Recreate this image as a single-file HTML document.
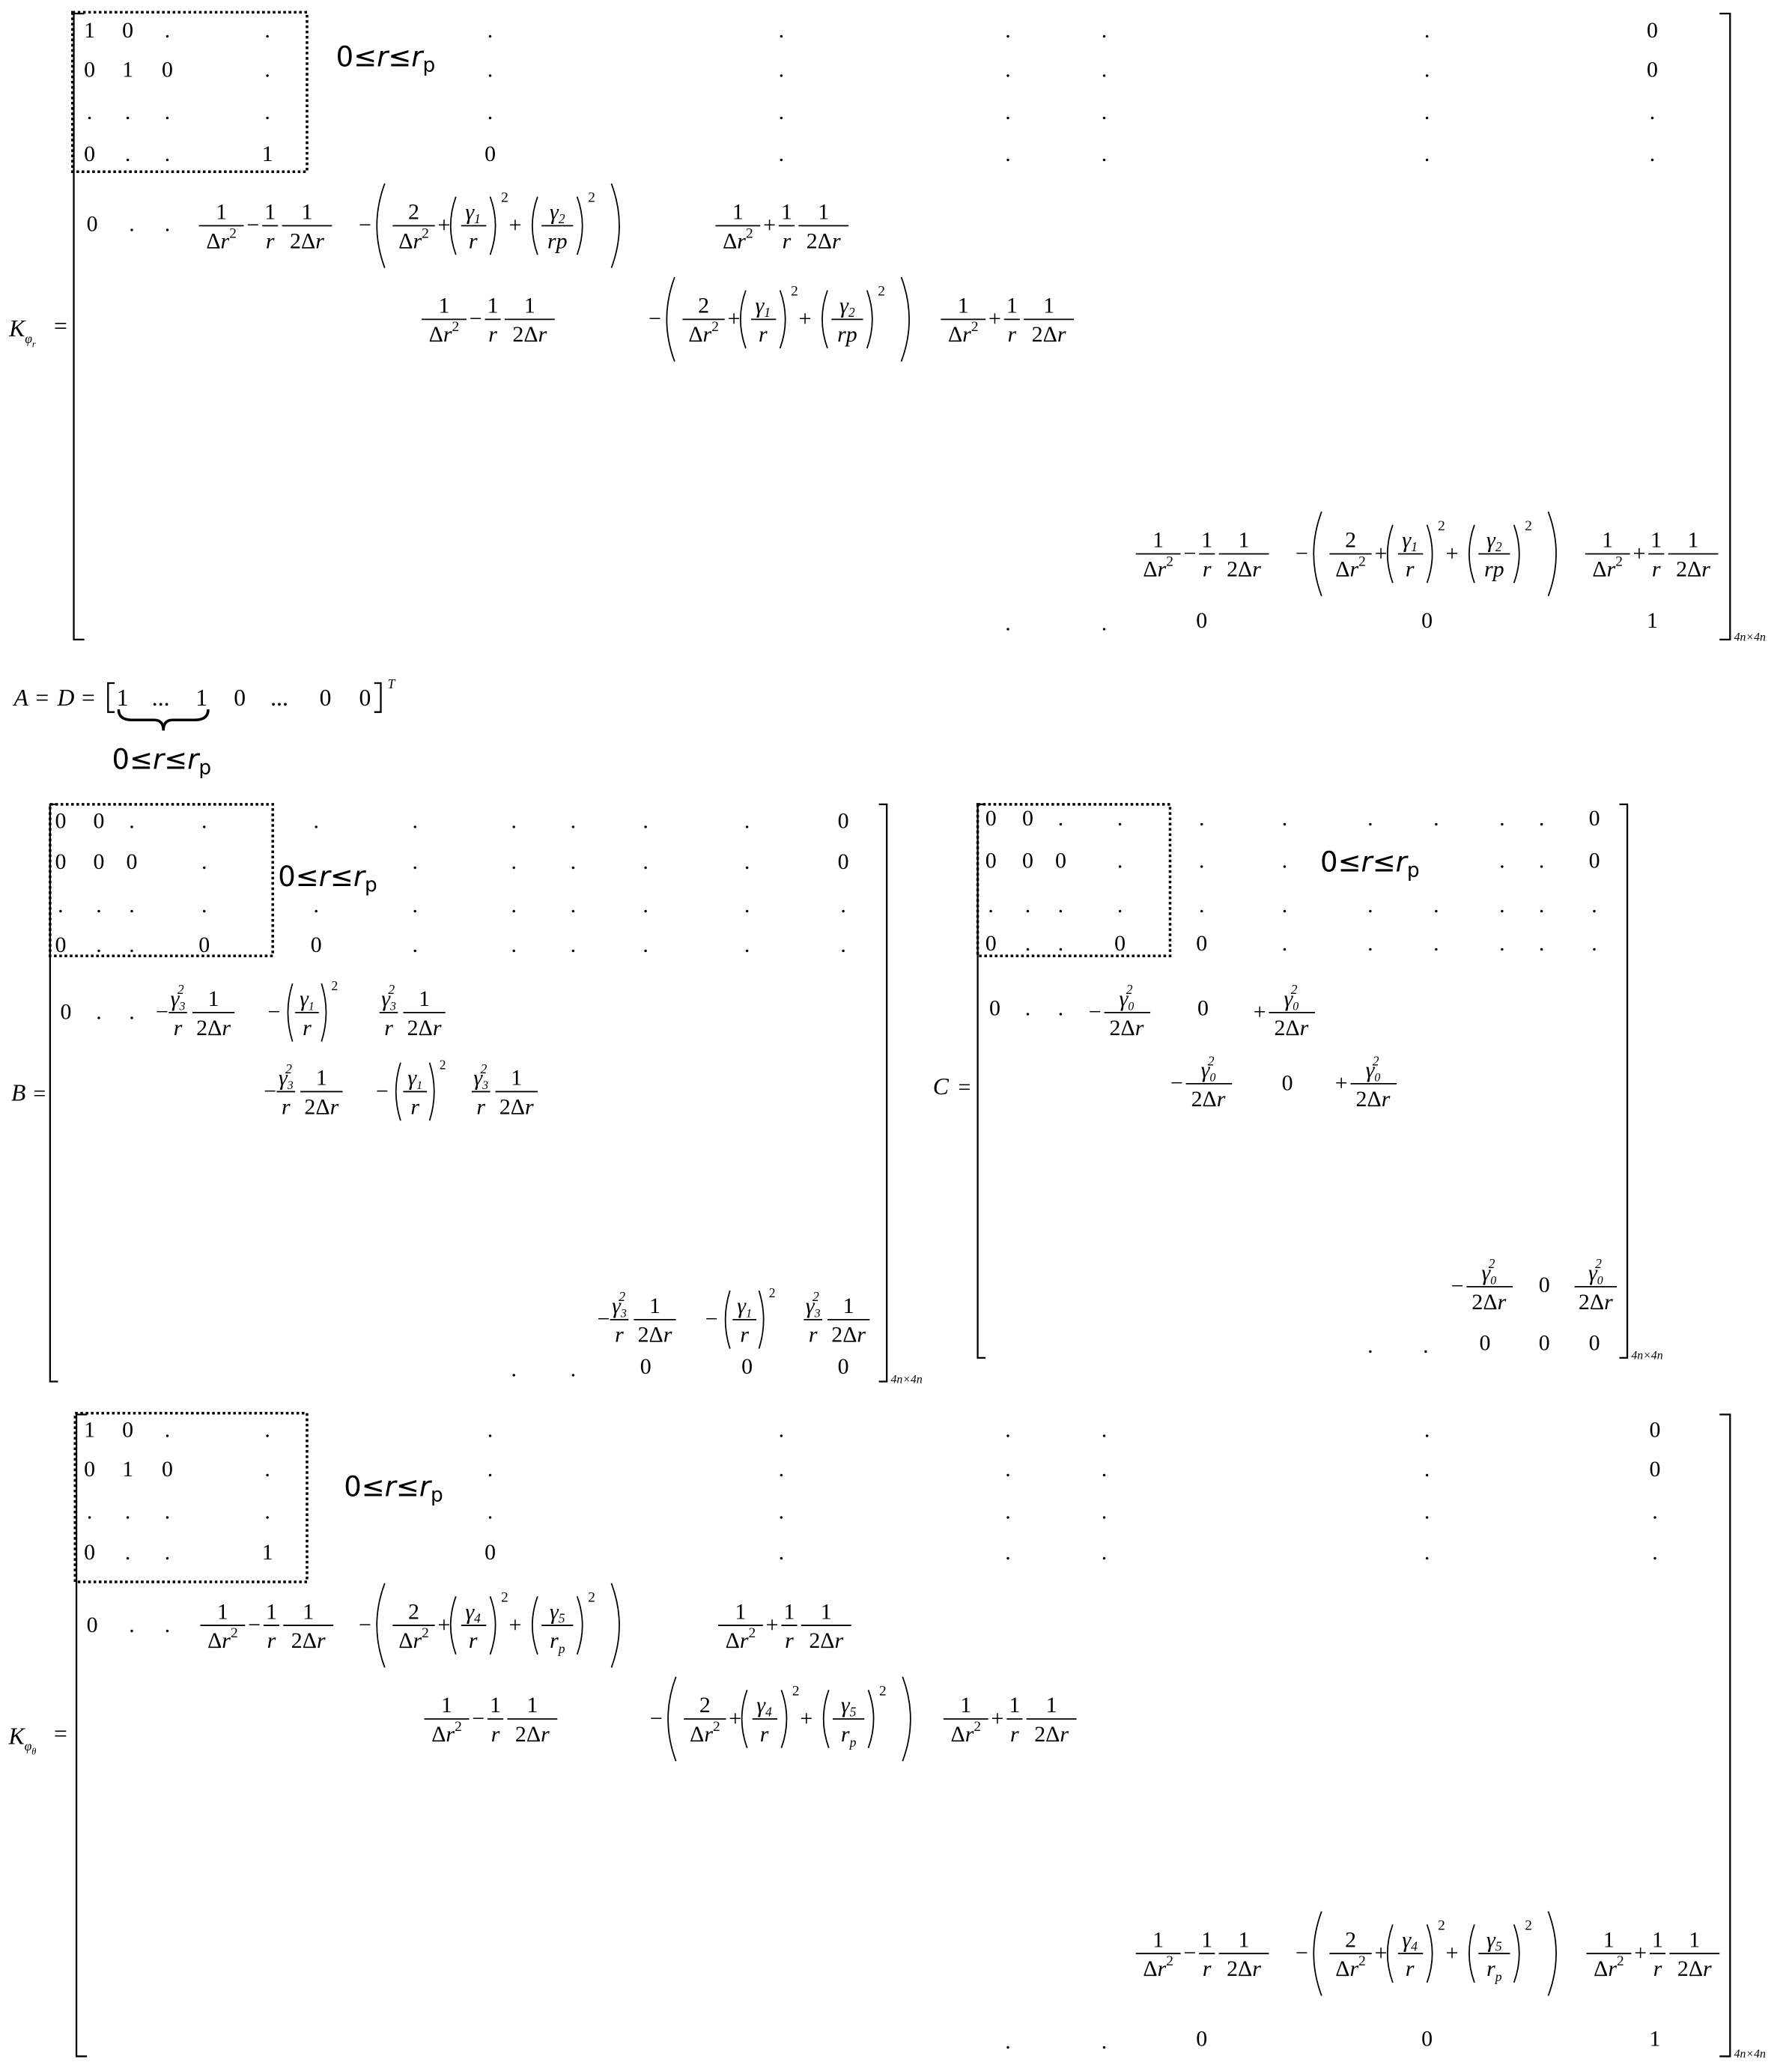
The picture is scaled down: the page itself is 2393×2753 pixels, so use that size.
<!DOCTYPE html>
<html><head><meta charset="utf-8"><style>
html,body{margin:0;padding:0;background:#fff}
svg{display:block;font-size:17px}
text{font-family:"Liberation Serif",serif;text-anchor:middle;fill:#000}
.i{font-style:italic}
.l{stroke:#000;stroke-width:1;fill:none}
.p{stroke:#000;stroke-width:1;fill:none}
.b{stroke:#000;stroke-width:1.3;fill:none}
.box{stroke:#000;stroke-width:2;stroke-dasharray:2,2;fill:none}
.s{font-size:10px}
.rr{font-family:"DejaVu Sans","Liberation Sans",sans-serif;font-size:21px;text-anchor:start}
</style></head><body>
<svg width="2393" height="2753" viewBox="0 0 1360 1564" xmlns="http://www.w3.org/2000/svg">

<!-- ================= K_phi_r ================= -->
<text x="17" y="255" class="i" style="font-size:18px">K<tspan class="s" dy="5">φ</tspan><tspan dy="3" font-size="7">r</tspan></text>
<text x="46" y="253" style="font-size:18px">=</text>
<path class="b" d="M64 10H56V485H64M1305 10H1313V485H1305"/>
<text x="1316" y="486" class="i" style="font-size:9px;text-anchor:start">4n×4n</text>
<rect class="box" x="55" y="9" width="178" height="121"/>
<text x="255" y="50" class="rr">0≤<tspan class="i">r</tspan>≤<tspan class="i">r</tspan><tspan font-size="15" dy="4">p</tspan></text>
<g>
<text x="68" y="28">1</text><text x="97" y="28">0</text><text x="127" y="28">.</text><text x="203" y="28">.</text><text x="372" y="28">.</text><text x="593" y="28">.</text><text x="765" y="28">.</text><text x="838" y="28">.</text><text x="1083" y="28">.</text><text x="1254" y="28">0</text>
<text x="68" y="58">0</text><text x="97" y="58">1</text><text x="127" y="58">0</text><text x="203" y="58">.</text><text x="372" y="58">.</text><text x="593" y="58">.</text><text x="765" y="58">.</text><text x="838" y="58">.</text><text x="1083" y="58">.</text><text x="1254" y="58">0</text>
<text x="68" y="90">.</text><text x="97" y="90">.</text><text x="127" y="90">.</text><text x="203" y="90">.</text><text x="372" y="90">.</text><text x="593" y="90">.</text><text x="765" y="90">.</text><text x="838" y="90">.</text><text x="1083" y="90">.</text><text x="1254" y="90">.</text>
<text x="68" y="122">0</text><text x="97" y="122">.</text><text x="127" y="122">.</text><text x="203" y="122">1</text><text x="372" y="122">0</text><text x="593" y="122">.</text><text x="765" y="122">.</text><text x="838" y="122">.</text><text x="1083" y="122">.</text><text x="1254" y="122">.</text>
<text x="70" y="175">0</text><text x="100" y="175">.</text><text x="127" y="175">.</text>
<text x="765" y="478">.</text><text x="838" y="478">.</text><text x="912" y="476">0</text><text x="1083" y="476">0</text><text x="1254" y="476">1</text>
</g>
<g transform="translate(151,171)"><path class="l" d="M0 0H34M48 0H60M63 0H101"/><text x="17" y="-5">1</text><text x="17" y="17">Δ<tspan class="i">r</tspan><tspan dy="-8" font-size="11">2</tspan></text><text x="41" y="5">−</text><text x="54" y="-5">1</text><text x="54" y="17" class="i">r</text><text x="82" y="-5">1</text><text x="82" y="17">2Δ<tspan class="i">r</tspan></text></g>
<g transform="translate(272,171)"><text x="5" y="5">−</text><path class="p" d="M20 -32Q8 0 20 32M192 -32Q204 0 192 32M74 -22Q66 0 74 22M100 -22Q108 0 100 22M136 -22Q128 0 136 22M166 -22Q174 0 166 22"/><path class="l" d="M26 0H58M78 0H97M139 0H163"/><text x="42" y="-5">2</text><text x="42" y="17">Δ<tspan class="i">r</tspan><tspan dy="-8" font-size="11">2</tspan></text><text x="65" y="5">+</text><text x="87" y="-5" class="i">γ<tspan font-size="10" dy="3">1</tspan></text><text x="87" y="17" class="i">r</text><text x="111" y="-18" font-size="11">2</text><text x="119" y="5">+</text><text x="151" y="-5" class="i">γ<tspan font-size="10" dy="3">2</tspan></text><text x="151" y="17" class="i">rp</text><text x="177" y="-18" font-size="11">2</text></g>
<g transform="translate(543,171)"><path class="l" d="M0 0H34M48 0H60M63 0H101"/><text x="17" y="-5">1</text><text x="17" y="17">Δ<tspan class="i">r</tspan><tspan dy="-8" font-size="11">2</tspan></text><text x="41" y="5">+</text><text x="54" y="-5">1</text><text x="54" y="17" class="i">r</text><text x="82" y="-5">1</text><text x="82" y="17">2Δ<tspan class="i">r</tspan></text></g>
<g transform="translate(320,242)"><path class="l" d="M0 0H34M48 0H60M63 0H101"/><text x="17" y="-5">1</text><text x="17" y="17">Δ<tspan class="i">r</tspan><tspan dy="-8" font-size="11">2</tspan></text><text x="41" y="5">−</text><text x="54" y="-5">1</text><text x="54" y="17" class="i">r</text><text x="82" y="-5">1</text><text x="82" y="17">2Δ<tspan class="i">r</tspan></text></g>
<g transform="translate(492,242)"><text x="5" y="5">−</text><path class="p" d="M20 -32Q8 0 20 32M192 -32Q204 0 192 32M74 -22Q66 0 74 22M100 -22Q108 0 100 22M136 -22Q128 0 136 22M166 -22Q174 0 166 22"/><path class="l" d="M26 0H58M78 0H97M139 0H163"/><text x="42" y="-5">2</text><text x="42" y="17">Δ<tspan class="i">r</tspan><tspan dy="-8" font-size="11">2</tspan></text><text x="65" y="5">+</text><text x="87" y="-5" class="i">γ<tspan font-size="10" dy="3">1</tspan></text><text x="87" y="17" class="i">r</text><text x="111" y="-18" font-size="11">2</text><text x="119" y="5">+</text><text x="151" y="-5" class="i">γ<tspan font-size="10" dy="3">2</tspan></text><text x="151" y="17" class="i">rp</text><text x="177" y="-18" font-size="11">2</text></g>
<g transform="translate(714,242)"><path class="l" d="M0 0H34M48 0H60M63 0H101"/><text x="17" y="-5">1</text><text x="17" y="17">Δ<tspan class="i">r</tspan><tspan dy="-8" font-size="11">2</tspan></text><text x="41" y="5">+</text><text x="54" y="-5">1</text><text x="54" y="17" class="i">r</text><text x="82" y="-5">1</text><text x="82" y="17">2Δ<tspan class="i">r</tspan></text></g>
<g transform="translate(862,420)"><path class="l" d="M0 0H34M48 0H60M63 0H101"/><text x="17" y="-5">1</text><text x="17" y="17">Δ<tspan class="i">r</tspan><tspan dy="-8" font-size="11">2</tspan></text><text x="41" y="5">−</text><text x="54" y="-5">1</text><text x="54" y="17" class="i">r</text><text x="82" y="-5">1</text><text x="82" y="17">2Δ<tspan class="i">r</tspan></text></g>
<g transform="translate(983,420)"><text x="5" y="5">−</text><path class="p" d="M20 -32Q8 0 20 32M192 -32Q204 0 192 32M74 -22Q66 0 74 22M100 -22Q108 0 100 22M136 -22Q128 0 136 22M166 -22Q174 0 166 22"/><path class="l" d="M26 0H58M78 0H97M139 0H163"/><text x="42" y="-5">2</text><text x="42" y="17">Δ<tspan class="i">r</tspan><tspan dy="-8" font-size="11">2</tspan></text><text x="65" y="5">+</text><text x="87" y="-5" class="i">γ<tspan font-size="10" dy="3">1</tspan></text><text x="87" y="17" class="i">r</text><text x="111" y="-18" font-size="11">2</text><text x="119" y="5">+</text><text x="151" y="-5" class="i">γ<tspan font-size="10" dy="3">2</tspan></text><text x="151" y="17" class="i">rp</text><text x="177" y="-18" font-size="11">2</text></g>
<g transform="translate(1203,420)"><path class="l" d="M0 0H34M48 0H60M63 0H101"/><text x="17" y="-5">1</text><text x="17" y="17">Δ<tspan class="i">r</tspan><tspan dy="-8" font-size="11">2</tspan></text><text x="41" y="5">+</text><text x="54" y="-5">1</text><text x="54" y="17" class="i">r</text><text x="82" y="-5">1</text><text x="82" y="17">2Δ<tspan class="i">r</tspan></text></g>

<!-- ================= A = D ================= -->
<g style="font-size:18px">
<text x="16" y="535" class="i">A</text><text x="32" y="535">=</text><text x="50" y="535" class="i">D</text><text x="67" y="535">=</text>
<text x="93" y="535">1</text><text x="122" y="535">...</text><text x="153" y="535">1</text><text x="182" y="535">0</text><text x="212" y="535">...</text><text x="247" y="535">0</text><text x="277" y="535">0</text>
<text x="297" y="522" class="i" font-size="10">T</text>
</g>
<path class="b" d="M87 518H82V540H87M284 518H289V540H284"/>
<path class="b" style="stroke-width:2" d="M90 538Q90 546 100 546H117Q124 546 124 554Q124 546 131 546H148Q158 546 158 538"/>
<text x="85" y="583" class="rr">0≤<tspan class="i">r</tspan>≤<tspan class="i">r</tspan><tspan font-size="15" dy="4">p</tspan></text>

<!-- ================= B ================= -->
<text x="14" y="835" class="i" style="font-size:18px">B</text><text x="30" y="835">=</text>
<path class="b" d="M44 610H38V1048H44M667 610H673V1048H667"/>
<text x="676" y="1049" class="i" style="font-size:9px;text-anchor:start">4n×4n</text>
<rect class="box" x="38" y="610" width="169" height="115"/>
<text x="211" y="672" class="rr">0≤<tspan class="i">r</tspan>≤<tspan class="i">r</tspan><tspan font-size="15" dy="4">p</tspan></text>
<g>
<text x="46" y="628">0</text><text x="75" y="628">0</text><text x="100" y="628">.</text><text x="155" y="628">.</text><text x="240" y="628">.</text><text x="315" y="628">.</text><text x="390" y="628">.</text><text x="435" y="628">.</text><text x="490" y="628">.</text><text x="567" y="628">.</text><text x="640" y="628">0</text>
<text x="46" y="659">0</text><text x="75" y="659">0</text><text x="100" y="659">0</text><text x="155" y="659">.</text><text x="315" y="659">.</text><text x="390" y="659">.</text><text x="435" y="659">.</text><text x="490" y="659">.</text><text x="567" y="659">.</text><text x="640" y="659">0</text>
<text x="46" y="692">.</text><text x="75" y="692">.</text><text x="100" y="692">.</text><text x="155" y="692">.</text><text x="240" y="692">.</text><text x="315" y="692">.</text><text x="390" y="692">.</text><text x="435" y="692">.</text><text x="490" y="692">.</text><text x="567" y="692">.</text><text x="640" y="692">.</text>
<text x="46" y="722">0</text><text x="75" y="722">.</text><text x="100" y="722">.</text><text x="155" y="722">0</text><text x="240" y="722">0</text><text x="315" y="722">.</text><text x="390" y="722">.</text><text x="435" y="722">.</text><text x="490" y="722">.</text><text x="567" y="722">.</text><text x="640" y="722">.</text>
<text x="50" y="773">0</text><text x="75" y="773">.</text><text x="100" y="773">.</text>
<text x="390" y="1044">.</text><text x="435" y="1044">.</text><text x="490" y="1042">0</text><text x="567" y="1042">0</text><text x="640" y="1042">0</text>
</g>
<g transform="translate(120,768)"><text x="3" y="5">−</text><path class="l" d="M8 0H22M26 0H58"/><text x="15" y="-5" class="i">γ<tspan font-size="9" dy="3">3</tspan><tspan font-size="10" dx="-6" dy="-12">2</tspan></text><text x="15" y="17" class="i">r</text><text x="42" y="-5">1</text><text x="42" y="17">2Δ<tspan class="i">r</tspan></text></g>
<g transform="translate(205,768)"><text x="3" y="5">−</text><path class="p" d="M17 -22Q10 0 17 22M39 -22Q46 0 39 22"/><path class="l" d="M19 0H37"/><text x="28" y="-5" class="i">γ<tspan font-size="9" dy="3">1</tspan></text><text x="28" y="17" class="i">r</text><text x="49" y="-17" font-size="10">2</text></g>
<g transform="translate(280,768)"><path class="l" d="M8 0H22M26 0H58"/><text x="15" y="-5" class="i">γ<tspan font-size="9" dy="3">3</tspan><tspan font-size="10" dx="-6" dy="-12">2</tspan></text><text x="15" y="17" class="i">r</text><text x="42" y="-5">1</text><text x="42" y="17">2Δ<tspan class="i">r</tspan></text></g>
<g transform="translate(202,828)"><text x="3" y="5">−</text><path class="l" d="M8 0H22M26 0H58"/><text x="15" y="-5" class="i">γ<tspan font-size="9" dy="3">3</tspan><tspan font-size="10" dx="-6" dy="-12">2</tspan></text><text x="15" y="17" class="i">r</text><text x="42" y="-5">1</text><text x="42" y="17">2Δ<tspan class="i">r</tspan></text></g>
<g transform="translate(287,828)"><text x="3" y="5">−</text><path class="p" d="M17 -22Q10 0 17 22M39 -22Q46 0 39 22"/><path class="l" d="M19 0H37"/><text x="28" y="-5" class="i">γ<tspan font-size="9" dy="3">1</tspan></text><text x="28" y="17" class="i">r</text><text x="49" y="-17" font-size="10">2</text></g>
<g transform="translate(350,828)"><path class="l" d="M8 0H22M26 0H58"/><text x="15" y="-5" class="i">γ<tspan font-size="9" dy="3">3</tspan><tspan font-size="10" dx="-6" dy="-12">2</tspan></text><text x="15" y="17" class="i">r</text><text x="42" y="-5">1</text><text x="42" y="17">2Δ<tspan class="i">r</tspan></text></g>
<g transform="translate(455,1001)"><text x="3" y="5">−</text><path class="l" d="M8 0H22M26 0H58"/><text x="15" y="-5" class="i">γ<tspan font-size="9" dy="3">3</tspan><tspan font-size="10" dx="-6" dy="-12">2</tspan></text><text x="15" y="17" class="i">r</text><text x="42" y="-5">1</text><text x="42" y="17">2Δ<tspan class="i">r</tspan></text></g>
<g transform="translate(537,1001)"><text x="3" y="5">−</text><path class="p" d="M17 -22Q10 0 17 22M39 -22Q46 0 39 22"/><path class="l" d="M19 0H37"/><text x="28" y="-5" class="i">γ<tspan font-size="9" dy="3">1</tspan></text><text x="28" y="17" class="i">r</text><text x="49" y="-17" font-size="10">2</text></g>
<g transform="translate(602,1001)"><path class="l" d="M8 0H22M26 0H58"/><text x="15" y="-5" class="i">γ<tspan font-size="9" dy="3">3</tspan><tspan font-size="10" dx="-6" dy="-12">2</tspan></text><text x="15" y="17" class="i">r</text><text x="42" y="-5">1</text><text x="42" y="17">2Δ<tspan class="i">r</tspan></text></g>

<!-- ================= C ================= -->
<text x="714" y="830" class="i" style="font-size:18px">C</text><text x="732" y="830">=</text>
<path class="b" d="M748 610H742V1030H748M1229 610H1235V1030H1229"/>
<text x="1238" y="1031" class="i" style="font-size:9px;text-anchor:start">4n×4n</text>
<rect class="box" x="742" y="610" width="146" height="115"/>
<text x="1002" y="661" class="rr">0≤<tspan class="i">r</tspan>≤<tspan class="i">r</tspan><tspan font-size="15" dy="4">p</tspan></text>
<g>
<text x="752" y="626">0</text><text x="780" y="626">0</text><text x="805" y="626">.</text><text x="850" y="626">.</text><text x="912" y="626">.</text><text x="975" y="626">.</text><text x="1040" y="626">.</text><text x="1090" y="626">.</text><text x="1140" y="626">.</text><text x="1170" y="626">.</text><text x="1210" y="626">0</text>
<text x="752" y="658">0</text><text x="780" y="658">0</text><text x="805" y="658">0</text><text x="850" y="658">.</text><text x="912" y="658">.</text><text x="975" y="658">.</text><text x="1140" y="658">.</text><text x="1170" y="658">.</text><text x="1210" y="658">0</text>
<text x="752" y="692">.</text><text x="780" y="692">.</text><text x="805" y="692">.</text><text x="850" y="692">.</text><text x="912" y="692">.</text><text x="975" y="692">.</text><text x="1040" y="692">.</text><text x="1090" y="692">.</text><text x="1140" y="692">.</text><text x="1170" y="692">.</text><text x="1210" y="692">.</text>
<text x="752" y="721">0</text><text x="780" y="721">.</text><text x="805" y="721">.</text><text x="850" y="721">0</text><text x="912" y="721">0</text><text x="975" y="721">.</text><text x="1040" y="721">.</text><text x="1090" y="721">.</text><text x="1140" y="721">.</text><text x="1170" y="721">.</text><text x="1210" y="721">.</text>
<text x="755" y="770">0</text><text x="780" y="770">.</text><text x="805" y="770">.</text>
<text x="913" y="770">0</text><text x="977" y="827">0</text><text x="1172" y="980">0</text>
<text x="1040" y="1026">.</text><text x="1082" y="1026">.</text><text x="1127" y="1024">0</text><text x="1172" y="1024">0</text><text x="1210" y="1024">0</text>
</g>
<g transform="translate(828,768)"><text x="3" y="5">−</text><path class="l" d="M10 0H45"/><text x="27" y="-5" class="i">γ<tspan font-size="9" dy="3">0</tspan><tspan font-size="10" dx="-6" dy="-12">2</tspan></text><text x="27" y="17">2Δ<tspan class="i">r</tspan></text></g>
<g transform="translate(953,768)"><text x="3" y="5">+</text><path class="l" d="M10 0H45"/><text x="27" y="-5" class="i">γ<tspan font-size="9" dy="3">0</tspan><tspan font-size="10" dx="-6" dy="-12">2</tspan></text><text x="27" y="17">2Δ<tspan class="i">r</tspan></text></g>
<g transform="translate(890,822)"><text x="3" y="5">−</text><path class="l" d="M10 0H45"/><text x="27" y="-5" class="i">γ<tspan font-size="9" dy="3">0</tspan><tspan font-size="10" dx="-6" dy="-12">2</tspan></text><text x="27" y="17">2Δ<tspan class="i">r</tspan></text></g>
<g transform="translate(1015,822)"><text x="3" y="5">+</text><path class="l" d="M10 0H45"/><text x="27" y="-5" class="i">γ<tspan font-size="9" dy="3">0</tspan><tspan font-size="10" dx="-6" dy="-12">2</tspan></text><text x="27" y="17">2Δ<tspan class="i">r</tspan></text></g>
<g transform="translate(1103,976)"><text x="3" y="5">−</text><path class="l" d="M10 0H45"/><text x="27" y="-5" class="i">γ<tspan font-size="9" dy="3">0</tspan><tspan font-size="10" dx="-6" dy="-12">2</tspan></text><text x="27" y="17">2Δ<tspan class="i">r</tspan></text></g>
<g transform="translate(1185,976)"><path class="l" d="M10 0H42"/><text x="26" y="-5" class="i">γ<tspan font-size="9" dy="3">0</tspan><tspan font-size="10" dx="-6" dy="-12">2</tspan></text><text x="26" y="17">2Δ<tspan class="i">r</tspan></text></g>

<!-- ================= K_phi_theta ================= -->
<text x="17" y="1323" class="i" style="font-size:18px">K<tspan class="s" dy="5">φ</tspan><tspan dy="3" font-size="7">θ</tspan></text>
<text x="46" y="1321" style="font-size:18px">=</text>
<path class="b" d="M66 1073H58V1560H66M1305 1073H1313V1560H1305"/>
<text x="1316" y="1561" class="i" style="font-size:9px;text-anchor:start">4n×4n</text>
<rect class="box" x="57" y="1072" width="176" height="128"/>
<text x="261" y="1135" class="rr">0≤<tspan class="i">r</tspan>≤<tspan class="i">r</tspan><tspan font-size="15" dy="4">p</tspan></text>
<g>
<text x="68" y="1090">1</text><text x="97" y="1090">0</text><text x="127" y="1090">.</text><text x="203" y="1090">.</text><text x="372" y="1090">.</text><text x="593" y="1090">.</text><text x="765" y="1090">.</text><text x="838" y="1090">.</text><text x="1083" y="1090">.</text><text x="1256" y="1090">0</text>
<text x="68" y="1120">0</text><text x="97" y="1120">1</text><text x="127" y="1120">0</text><text x="203" y="1120">.</text><text x="372" y="1120">.</text><text x="593" y="1120">.</text><text x="765" y="1120">.</text><text x="838" y="1120">.</text><text x="1083" y="1120">.</text><text x="1256" y="1120">0</text>
<text x="68" y="1152">.</text><text x="97" y="1152">.</text><text x="127" y="1152">.</text><text x="203" y="1152">.</text><text x="372" y="1152">.</text><text x="593" y="1152">.</text><text x="765" y="1152">.</text><text x="838" y="1152">.</text><text x="1083" y="1152">.</text><text x="1256" y="1152">.</text>
<text x="68" y="1183">0</text><text x="97" y="1183">.</text><text x="127" y="1183">.</text><text x="203" y="1183">1</text><text x="372" y="1183">0</text><text x="593" y="1183">.</text><text x="765" y="1183">.</text><text x="838" y="1183">.</text><text x="1083" y="1183">.</text><text x="1256" y="1183">.</text>
<text x="70" y="1238">0</text><text x="100" y="1238">.</text><text x="127" y="1238">.</text>
<text x="765" y="1554">.</text><text x="838" y="1554">.</text><text x="912" y="1552">0</text><text x="1083" y="1552">0</text><text x="1256" y="1552">1</text>
</g>
<g transform="translate(152,1233)"><path class="l" d="M0 0H34M48 0H60M63 0H101"/><text x="17" y="-5">1</text><text x="17" y="17">Δ<tspan class="i">r</tspan><tspan dy="-8" font-size="11">2</tspan></text><text x="41" y="5">−</text><text x="54" y="-5">1</text><text x="54" y="17" class="i">r</text><text x="82" y="-5">1</text><text x="82" y="17">2Δ<tspan class="i">r</tspan></text></g>
<g transform="translate(272,1233)"><text x="5" y="5">−</text><path class="p" d="M20 -32Q8 0 20 32M192 -32Q204 0 192 32M74 -22Q66 0 74 22M100 -22Q108 0 100 22M136 -22Q128 0 136 22M166 -22Q174 0 166 22"/><path class="l" d="M26 0H58M78 0H97M139 0H163"/><text x="42" y="-5">2</text><text x="42" y="17">Δ<tspan class="i">r</tspan><tspan dy="-8" font-size="11">2</tspan></text><text x="65" y="5">+</text><text x="87" y="-5" class="i">γ<tspan font-size="10" dy="3">4</tspan></text><text x="87" y="17" class="i">r</text><text x="111" y="-18" font-size="11">2</text><text x="119" y="5">+</text><text x="151" y="-5" class="i">γ<tspan font-size="10" dy="3">5</tspan></text><text x="151" y="17" class="i">r<tspan font-size="10" dy="4">p</tspan></text><text x="177" y="-18" font-size="11">2</text></g>
<g transform="translate(545,1233)"><path class="l" d="M0 0H34M48 0H60M63 0H101"/><text x="17" y="-5">1</text><text x="17" y="17">Δ<tspan class="i">r</tspan><tspan dy="-8" font-size="11">2</tspan></text><text x="41" y="5">+</text><text x="54" y="-5">1</text><text x="54" y="17" class="i">r</text><text x="82" y="-5">1</text><text x="82" y="17">2Δ<tspan class="i">r</tspan></text></g>
<g transform="translate(322,1304)"><path class="l" d="M0 0H34M48 0H60M63 0H101"/><text x="17" y="-5">1</text><text x="17" y="17">Δ<tspan class="i">r</tspan><tspan dy="-8" font-size="11">2</tspan></text><text x="41" y="5">−</text><text x="54" y="-5">1</text><text x="54" y="17" class="i">r</text><text x="82" y="-5">1</text><text x="82" y="17">2Δ<tspan class="i">r</tspan></text></g>
<g transform="translate(493,1304)"><text x="5" y="5">−</text><path class="p" d="M20 -32Q8 0 20 32M192 -32Q204 0 192 32M74 -22Q66 0 74 22M100 -22Q108 0 100 22M136 -22Q128 0 136 22M166 -22Q174 0 166 22"/><path class="l" d="M26 0H58M78 0H97M139 0H163"/><text x="42" y="-5">2</text><text x="42" y="17">Δ<tspan class="i">r</tspan><tspan dy="-8" font-size="11">2</tspan></text><text x="65" y="5">+</text><text x="87" y="-5" class="i">γ<tspan font-size="10" dy="3">4</tspan></text><text x="87" y="17" class="i">r</text><text x="111" y="-18" font-size="11">2</text><text x="119" y="5">+</text><text x="151" y="-5" class="i">γ<tspan font-size="10" dy="3">5</tspan></text><text x="151" y="17" class="i">r<tspan font-size="10" dy="4">p</tspan></text><text x="177" y="-18" font-size="11">2</text></g>
<g transform="translate(716,1304)"><path class="l" d="M0 0H34M48 0H60M63 0H101"/><text x="17" y="-5">1</text><text x="17" y="17">Δ<tspan class="i">r</tspan><tspan dy="-8" font-size="11">2</tspan></text><text x="41" y="5">+</text><text x="54" y="-5">1</text><text x="54" y="17" class="i">r</text><text x="82" y="-5">1</text><text x="82" y="17">2Δ<tspan class="i">r</tspan></text></g>
<g transform="translate(862,1482)"><path class="l" d="M0 0H34M48 0H60M63 0H101"/><text x="17" y="-5">1</text><text x="17" y="17">Δ<tspan class="i">r</tspan><tspan dy="-8" font-size="11">2</tspan></text><text x="41" y="5">−</text><text x="54" y="-5">1</text><text x="54" y="17" class="i">r</text><text x="82" y="-5">1</text><text x="82" y="17">2Δ<tspan class="i">r</tspan></text></g>
<g transform="translate(983,1482)"><text x="5" y="5">−</text><path class="p" d="M20 -32Q8 0 20 32M192 -32Q204 0 192 32M74 -22Q66 0 74 22M100 -22Q108 0 100 22M136 -22Q128 0 136 22M166 -22Q174 0 166 22"/><path class="l" d="M26 0H58M78 0H97M139 0H163"/><text x="42" y="-5">2</text><text x="42" y="17">Δ<tspan class="i">r</tspan><tspan dy="-8" font-size="11">2</tspan></text><text x="65" y="5">+</text><text x="87" y="-5" class="i">γ<tspan font-size="10" dy="3">4</tspan></text><text x="87" y="17" class="i">r</text><text x="111" y="-18" font-size="11">2</text><text x="119" y="5">+</text><text x="151" y="-5" class="i">γ<tspan font-size="10" dy="3">5</tspan></text><text x="151" y="17" class="i">r<tspan font-size="10" dy="4">p</tspan></text><text x="177" y="-18" font-size="11">2</text></g>
<g transform="translate(1204,1482)"><path class="l" d="M0 0H34M48 0H60M63 0H101"/><text x="17" y="-5">1</text><text x="17" y="17">Δ<tspan class="i">r</tspan><tspan dy="-8" font-size="11">2</tspan></text><text x="41" y="5">+</text><text x="54" y="-5">1</text><text x="54" y="17" class="i">r</text><text x="82" y="-5">1</text><text x="82" y="17">2Δ<tspan class="i">r</tspan></text></g>
</svg>
</body></html>
